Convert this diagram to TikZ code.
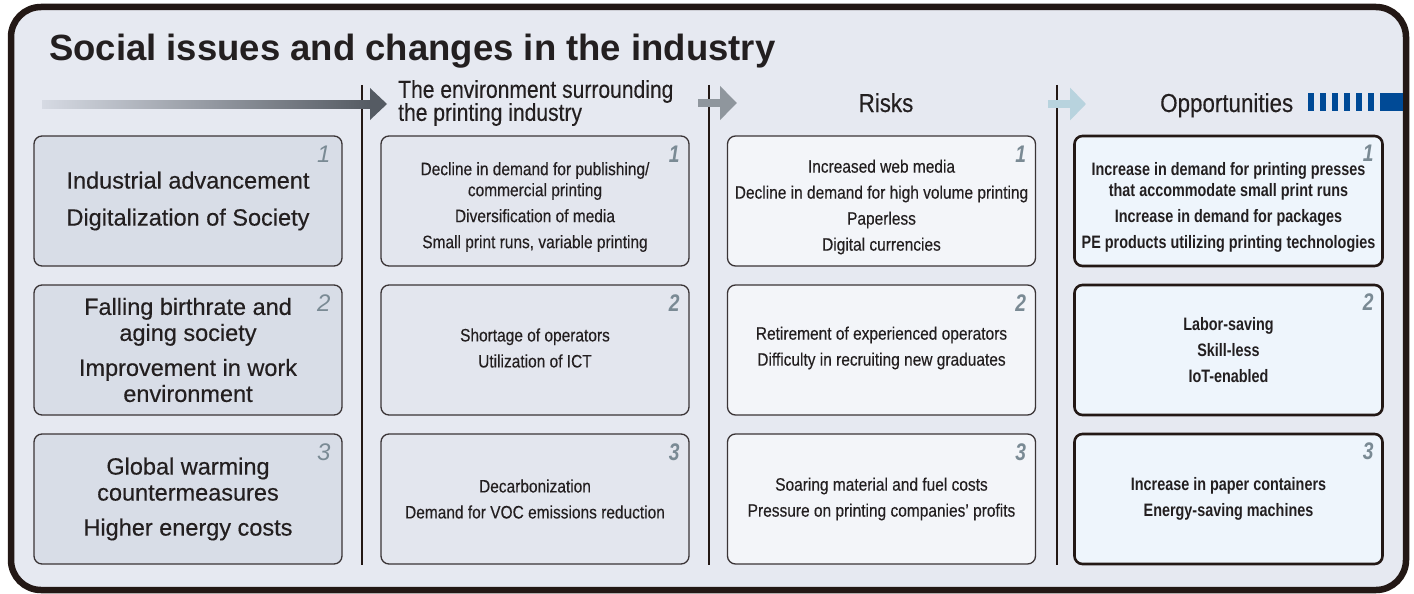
\documentclass[tikz,border=0pt]{standalone}
\usepackage{fontspec}
\setmainfont{Liberation Sans}
\newfontfamily\condfont[FakeStretch=0.86,FakeBold=0.25]{Liberation Sans}
\newfontfamily\condbold[FakeStretch=0.8]{Liberation Sans}
\newfontfamily\medfont[FakeBold=0.4]{Liberation Sans}
\usetikzlibrary{positioning,arrows.meta}
\definecolor{bgpanel}{HTML}{E6E9F1}
\definecolor{frameink}{HTML}{231815}
\definecolor{ink}{HTML}{231F20}
\definecolor{boxline}{HTML}{3A3436}
\definecolor{fillA}{HTML}{D8DDE7}
\definecolor{fillB}{HTML}{E3E6EE}
\definecolor{fillC}{HTML}{F3F5F9}
\definecolor{fillD}{HTML}{EEF5FC}
\definecolor{numgray}{HTML}{7A8A94}
\definecolor{bluebar}{HTML}{004A96}
\definecolor{arrowlight}{HTML}{D6DAE3}
\definecolor{arrowdark}{HTML}{555B63}
\definecolor{arrowgray}{HTML}{8F969D}
\definecolor{arrowblue}{HTML}{B8D3DE}
\tikzset{
  panel/.style={rounded corners=8, draw=boxline, line width=1.3, minimum width=308, minimum height=130, inner sep=0},
  socialbox/.style={panel, fill=fillA},
  envbox/.style={panel, fill=fillB},
  riskbox/.style={panel, fill=fillC},
  oppbox/.style={panel, fill=fillD, line width=2.6, draw=frameink},
  socialtxt/.style={align=center, text=ink, inner sep=0, font=\medfont\fontsize{23.5}{26}\selectfont},
  condtxt/.style={align=center, text=ink, inner sep=0, font=\condfont\fontsize{18}{21}\selectfont},
  opptxt/.style={condtxt, font=\condbold\bfseries\fontsize{18}{21}\selectfont},
  headtxt/.style={text=ink, inner sep=0, font=\condfont\fontsize{24.5}{23}\selectfont},
  bighead/.style={headtxt, font=\condfont\fontsize{26}{26}\selectfont},
  numA/.style={anchor=north east, text=numgray, inner sep=0, font=\itshape\fontsize{24}{24}\selectfont},
  numB/.style={anchor=north east, text=numgray, inner sep=0, font=\condbold\bfseries\itshape\fontsize{24}{24}\selectfont},
  sepline/.style={draw=frameink, line width=1.4},
}
\begin{document}
\begin{tikzpicture}[x=1pt,y=-1pt]
\useasboundingbox (0,0) rectangle (1414,594);
% outer frame
\draw[line width=6.5, draw=frameink, fill=bgpanel, rounded corners=30] (11,7) rectangle (1406,590);
\node[anchor=base west, inner sep=0, text=ink, font=\bfseries\fontsize{36.5}{40}\selectfont] (title) at (49,60) {Social issues and changes in the industry};
% column separators
\draw[sepline] (362,85) -- (362,565);
\draw[sepline] (709,85) -- (709,565);
\draw[sepline] (1057,85) -- (1057,565);
% headings
\node[headtxt, anchor=west, align=left] (envhead) at (398,103) {The environment surrounding\\the printing industry};
\node[bighead, anchor=base] (riskhead) at (886,112) {Risks};
\node[bighead, anchor=base west] (opphead) at (1160,112) {Opportunities};
% arrows
\coordinate (a1s) at (42,104);
\coordinate (a1e) at (370,104);
\shade[left color=arrowlight, right color=arrowdark] ([yshift=4]a1s) rectangle ([yshift=-4]a1e);
\fill[arrowdark] (370,88) -- (387,104) -- (370,120) -- cycle;
\coordinate (a2s) at (698,103);
\coordinate (a2e) at (737,103);
\draw[line width=8, arrowgray, -{Triangle[length=17,width=33]}] (a2s) -- (a2e);
\coordinate (a3s) at (1048,104);
\coordinate (a3e) at (1086,104);
\draw[line width=8, arrowblue, -{Triangle[length=16,width=32]}] (a3s) -- (a3e);
% blue bar
\foreach \x in {1308,1320,1332,1344,1356,1368}
  \fill[bluebar] (\x,93) rectangle ++(6,18);
\fill[bluebar] (1380,93) rectangle (1403,111);
% column 1
\node[socialbox] (s1) at (188,201) {};
\node[socialbox] (s2) at (188,350) {};
\node[socialbox] (s3) at (188,499) {};
\node[socialtxt] (s1t) at (s1) {Industrial advancement\\[11pt]Digitalization of Society};
\node[socialtxt] (s2t) at (s2) {Falling birthrate and\\aging society\\[9pt]Improvement in work\\environment};
\node[socialtxt] (s3t) at (s3) {Global warming\\countermeasures\\[9pt]Higher energy costs};
% column 2
\node[envbox] (e1) at (535,201) {};
\node[envbox] (e2) at (535,350) {};
\node[envbox] (e3) at (535,499) {};
\node[condtxt] (e1t) at ([yshift=-6]e1) {Decline in demand for publishing/\\commercial printing\\[5pt]Diversification of media\\[5pt]Small print runs, variable printing};
\node[condtxt] (e2t) at ([yshift=2]e2) {Shortage of operators\\[5pt]Utilization of ICT};
\node[condtxt] (e3t) at (e3) {Decarbonization\\[5pt]Demand for VOC emissions reduction};
% column 3
\node[riskbox] (r1) at (881.5,201) {};
\node[riskbox] (r2) at (881.5,350) {};
\node[riskbox] (r3) at (881.5,499) {};
\node[condtxt] (r1t) at ([yshift=-6]r1) {Increased web media\\[5pt]Decline in demand for high volume printing\\[5pt]Paperless\\[5pt]Digital currencies};
\node[condtxt] (r2t) at ([yshift=2]r2) {Retirement of experienced operators\\[5pt]Difficulty in recruiting new graduates};
\node[condtxt] (r3t) at (r3) {Soaring material and fuel costs\\[5pt]Pressure on printing companies’ profits};
% column 4
\node[oppbox] (o1) at (1228.5,201) {};
\node[oppbox] (o2) at (1228.5,350) {};
\node[oppbox] (o3) at (1228.5,499) {};
\node[opptxt] (o1t) at ([yshift=-6]o1) {Increase in demand for printing presses\\that accommodate small print runs\\[5pt]Increase in demand for packages\\[5pt]PE products utilizing printing technologies};
\node[opptxt] (o2t) at (o2) {Labor-saving\\[5pt]Skill-less\\[5pt]IoT-enabled};
\node[opptxt] (o3t) at (o3) {Increase in paper containers\\[5pt]Energy-saving machines};
% numbers
\foreach \b/\n in {s1/1,s2/2,s3/3}
  \node[numA] (n\b) at ([xshift=-12,yshift=-10]\b.north east) {\n};
\foreach \b/\n in {e1/1,e2/2,e3/3,r1/1,r2/2,r3/3,o1/1,o2/2,o3/3}
  \node[numB] (n\b) at ([xshift=-10,yshift=-10]\b.north east) {\n};
\end{tikzpicture}
\end{document}
